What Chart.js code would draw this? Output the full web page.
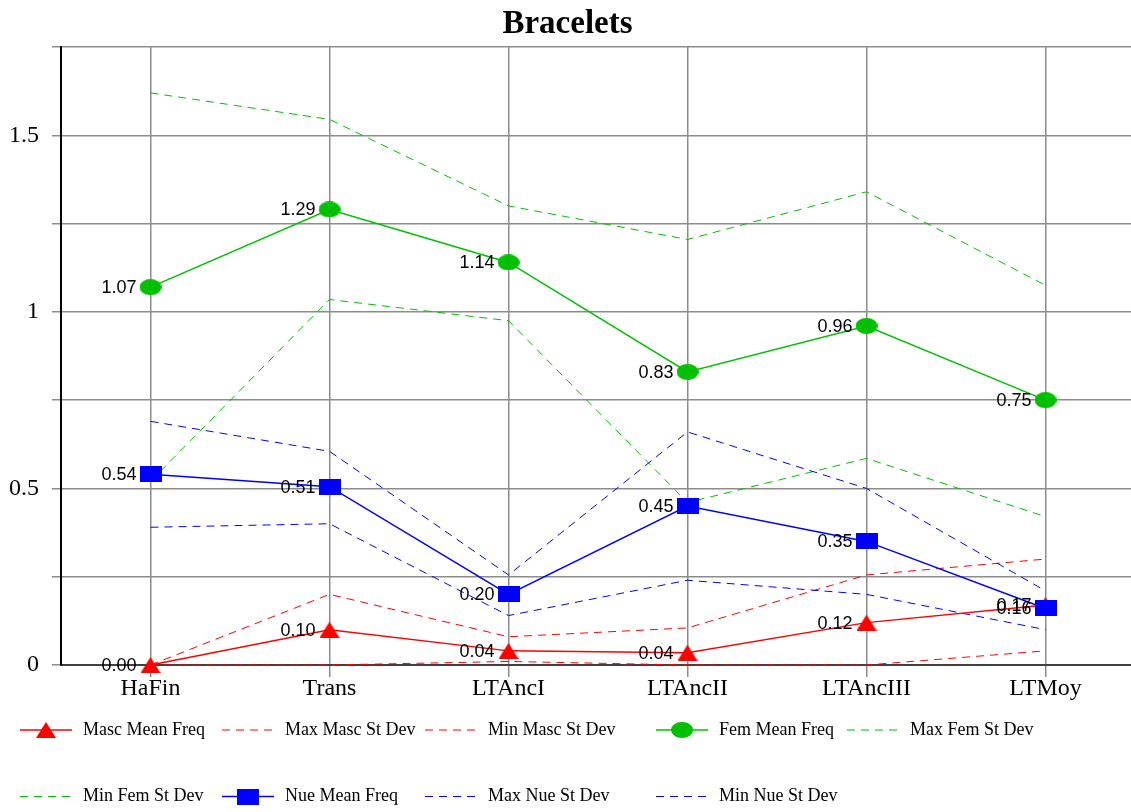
<!DOCTYPE html>
<html><head><meta charset="utf-8">
<script src="https://cdn.jsdelivr.net/npm/chart.js@4"></script>
<style>html,body{margin:0;padding:0;overflow:hidden;background:#fff} canvas{display:block;position:relative;left:-23px}</style>
</head><body><canvas id="c" width="1158" height="812"></canvas>
<script>
const categories = ['HaFin', 'Trans', 'LTAncI', 'LTAncII', 'LTAncIII', 'LTMoy'];
const mascMean = [0.00, 0.10, 0.04, 0.035, 0.12, 0.17];
const mascMax  = [0.00, 0.20, 0.08, 0.105, 0.255, 0.30];
const mascMin  = [0.00, 0.00, 0.01, 0.00, 0.00, 0.04];
const femMean  = [1.07, 1.29, 1.14, 0.83, 0.96, 0.75];
const femMax   = [1.62, 1.545, 1.30, 1.205, 1.34, 1.075];
const femMin   = [0.52, 1.035, 0.975, 0.46, 0.585, 0.42];
const nueMean  = [0.54, 0.505, 0.20, 0.45, 0.35, 0.16];
const nueMax   = [0.69, 0.605, 0.255, 0.66, 0.50, 0.21];
const nueMin   = [0.39, 0.40, 0.14, 0.24, 0.20, 0.10];
const yTickLabels = {0: '0', 0.5: '0.5', 1: '1', 1.5: '1.5'};

const RED = '#ff0000', GREEN = '#00c000', BLUE = '#0000ff';
const SERIF = '"Liberation Serif", "Times New Roman", serif';
const SANS = '"Liberation Sans", Arial, sans-serif';
const PAD_L = 23; // canvas is shifted left by this amount

function makeImg(w, h, draw) { const c = document.createElement('canvas'); c.width = w; c.height = h; draw(c.getContext('2d'), w, h); return c; }
const triImg = makeImg(20, 16, (x, w, h) => { x.fillStyle = RED; x.beginPath(); x.moveTo(w / 2, 0); x.lineTo(w, h); x.lineTo(0, h); x.closePath(); x.fill(); });
const ellImg = makeImg(22, 16, (x, w, h) => { x.fillStyle = GREEN; x.beginPath(); x.ellipse(w / 2, h / 2, w / 2, h / 2, 0, 0, Math.PI * 2); x.fill(); });
const sqImg = makeImg(22, 16, (x, w, h) => { x.fillStyle = BLUE; x.fillRect(0, 0, w, h); });

const DASH = [8, 6];
function meanSet(label, data, color, img, order) {
  return { label, data, borderColor: color, backgroundColor: color, borderWidth: 1.5, pointStyle: img, pointRadius: 8, showValues: true, order, clip: false };
}
function devSet(label, data, color, order) {
  return { label, data, borderColor: color, backgroundColor: color, borderWidth: 1, borderDash: DASH, pointRadius: 0, order, clip: false };
}

const datasets = [
  meanSet('Masc Mean Freq', mascMean, RED, triImg, 3),
  devSet('Max Masc St Dev', mascMax, RED, 9),
  devSet('Min Masc St Dev', mascMin, RED, 8),
  meanSet('Fem Mean Freq', femMean, GREEN, ellImg, 2),
  devSet('Max Fem St Dev', femMax, GREEN, 7),
  devSet('Min Fem St Dev', femMin, GREEN, 6),
  meanSet('Nue Mean Freq', nueMean, BLUE, sqImg, 1),
  devSet('Max Nue St Dev', nueMax, BLUE, 5),
  devSet('Min Nue St Dev', nueMin, BLUE, 4)
];

const valueLabels = {
  id: 'valueLabels',
  afterDatasetsDraw(chart) {
    const ctx = chart.ctx;
    ctx.save();
    ctx.font = '18px ' + SANS;
    ctx.fillStyle = '#000';
    ctx.textAlign = 'right';
    ctx.textBaseline = 'middle';
    chart.data.datasets.forEach((ds, i) => {
      if (!ds.showValues) return;
      chart.getDatasetMeta(i).data.forEach((pt, j) => {
        const v = Math.round(ds.data[j] * 100) / 100;
        ctx.fillText(v.toFixed(2), pt.x - 14, pt.y + 1);
      });
    });
    ctx.restore();
  }
};

const legendCols = [20, 222, 425, 656, 847];
const legendRows = [730, 796.5];
const customLegend = {
  id: 'customLegend',
  afterDraw(chart) {
    const ctx = chart.ctx;
    ctx.save();
    chart.data.datasets.forEach((ds, i) => {
      const x = PAD_L + legendCols[i % 5], y = legendRows[Math.floor(i / 5)];
      ctx.strokeStyle = ds.borderColor;
      ctx.lineWidth = ds.borderWidth;
      ctx.setLineDash(ds.borderDash || []);
      ctx.beginPath(); ctx.moveTo(x, y); ctx.lineTo(x + 52, y); ctx.stroke();
      ctx.setLineDash([]);
      if (ds.showValues) { const im = ds.pointStyle; ctx.drawImage(im, x + 26 - im.width / 2, y - im.height / 2); }
      ctx.font = '18px ' + SERIF;
      ctx.fillStyle = '#000';
      ctx.textAlign = 'left';
      ctx.textBaseline = 'middle';
      ctx.fillText(ds.label, x + 63, y);
    });
    ctx.restore();
  }
};

new Chart(document.getElementById('c'), {
  type: 'line',
  data: { labels: categories, datasets },
  plugins: [valueLabels, customLegend],
  options: {
    responsive: false, animation: false, devicePixelRatio: 1, events: [],
    layout: { autoPadding: false, padding: { left: PAD_L, right: 0, top: 0, bottom: 107 } },
    elements: { line: { tension: 0 } },
    plugins: {
      legend: { display: false },
      tooltip: { enabled: false },
      title: { display: true, text: 'Bracelets', color: '#000', font: { family: SERIF, size: 33, weight: 'bold', lineHeight: 1.2 }, padding: { top: 5, bottom: 2.4 } }
    },
    scales: {
      x: {
        offset: true,
        grid: { offset: false, color: '#8c8c8c', lineWidth: 1.5, tickLength: 12, tickColor: '#8c8c8c' },
        border: { color: '#404040', width: 2 },
        ticks: { font: { family: SERIF, size: 24, lineHeight: 1 }, color: '#000', padding: 0, maxRotation: 0, autoSkip: false },
        afterFit: s => { s.height = 40; }
      },
      y: {
        min: 0, max: 1.75,
        ticks: { stepSize: 0.25, callback: v => (yTickLabels[v] !== undefined ? yTickLabels[v] : ''), font: { family: SERIF, size: 24 }, color: '#000', padding: 13 },
        grid: { color: '#8c8c8c', lineWidth: 1.5, tickLength: 9, tickColor: '#8c8c8c' },
        border: { color: '#000', width: 2 },
        afterFit: s => { s.width = 61; }
      }
    }
  }
});
</script></body></html>
